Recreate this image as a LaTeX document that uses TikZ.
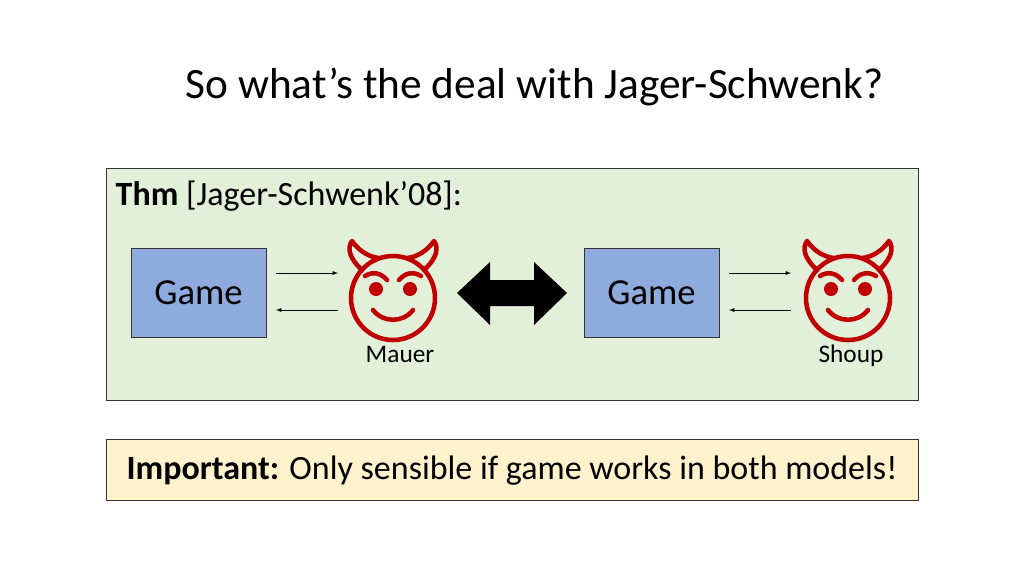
\documentclass[tikz,border=0pt]{standalone}
\usepackage{fontspec}
\setmainfont{Carlito}
\usetikzlibrary{positioning}
\definecolor{devilred}{HTML}{C00000}
\definecolor{thmgreen}{HTML}{E2EFD9}
\definecolor{notey}{HTML}{FFF2CC}
\definecolor{gameblue}{HTML}{8FAADC}
\tikzset{
  gamebox/.style={draw=black!80, fill=gameblue, minimum width=101pt, minimum height=67pt, font=\fontsize{27.5}{30}\selectfont},
  msg/.style={-latex, thin},
  devilline/.style={draw=devilred, line width=3.4pt, line cap=round, line join=round},
  devil/.pic={
    \draw[devilline] (0,0) circle (42);
    % horns
    \draw[devilline] (-31,-28) .. controls (-44,-40) and (-46,-50) .. (-41,-57) .. controls (-34,-47) and (-24,-41) .. (-14,-40);
    \draw[devilline] (31,-28) .. controls (44,-40) and (46,-50) .. (41,-57) .. controls (34,-47) and (24,-41) .. (14,-40);
    % brows
    \draw[devilline] (-28,-22) .. controls (-20,-27) and (-12,-25) .. (-6,-18);
    \draw[devilline] (28,-22) .. controls (20,-27) and (12,-25) .. (6,-18);
    \fill[devilred] (-17,-9) circle (7) (17,-9) circle (7);
    % smile
    \draw[devilline] (-20,12) .. controls (-10,25) and (10,25) .. (20,12);
  }
}
\begin{document}
\begin{tikzpicture}[x=0.75pt,y=-0.75pt]
\useasboundingbox (0,0) rectangle (1024,576);
\node[anchor=west, font=\fontsize{32.5}{36}\selectfont] (title) at (181,87) {So what’s the deal with Jager-Schwenk?};
% theorem box
\draw[black!80, fill=thmgreen] (106,168) rectangle (918,400);
\node[anchor=west, font=\fontsize{25.5}{28}\selectfont] (thm) at (111,196) {\textbf{Thm} [Jager-Schwenk’08]:};
\node[gamebox] (game1) at (198.5,292.5) {Game};
\node[gamebox] (game2) at (651.5,292.5) {Game};
\pic at (393,298) {devil};
\pic at (848,298) {devil};
\node[anchor=base, font=\fontsize{19}{22}\selectfont] (mauer) at (400,362) {Mauer};
\node[anchor=base, font=\fontsize{19}{22}\selectfont] (shoup) at (851,362) {Shoup};
\coordinate (m1a) at (276,273); \coordinate (m1b) at (338,273);
\coordinate (m2a) at (338,310); \coordinate (m2b) at (276,310);
\coordinate (s1a) at (729,273); \coordinate (s1b) at (791,273);
\coordinate (s2a) at (791,310); \coordinate (s2b) at (729,310);
\draw[msg] (m1a) -- (m1b);
\draw[msg] (m2a) -- (m2b);
\draw[msg] (s1a) -- (s1b);
\draw[msg] (s2a) -- (s2b);
% equivalence
\fill[black] (457,293) -- (490,262) -- (490,280) -- (534,280) -- (534,262) -- (567,293) -- (534,325) -- (534,306) -- (490,306) -- (490,325) -- cycle;
% note
\draw[black!80, fill=notey] (106,439) rectangle (918,500);
\node[font=\fontsize{25.5}{28}\selectfont] (note) at (512,471) {\textbf{Important:} Only sensible if game works in both models!};
\end{tikzpicture}
\end{document}
